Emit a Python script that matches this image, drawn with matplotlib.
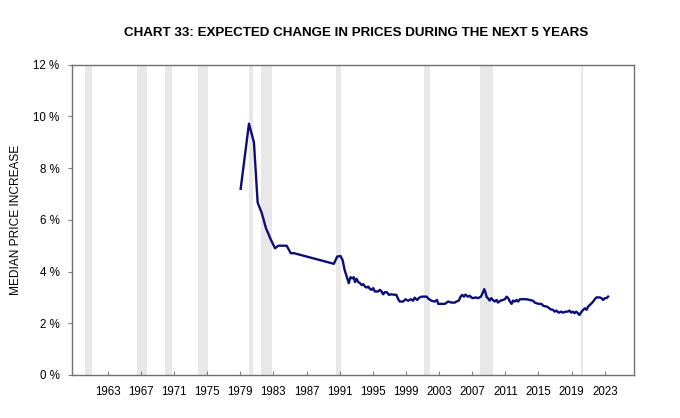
import matplotlib
matplotlib.use('Agg')
import matplotlib.pyplot as plt

plt.rcParams['font.family'] = ['Liberation Sans', 'DejaVu Sans']

# decimal year and median expected price increase (%)
years = [1979.05, 1980.05, 1980.65, 1981.1, 1981.6, 1982.1, 1982.7, 1983.2, 1983.6,
         1984.6, 1985.1, 1985.5, 1990.3, 1990.7, 1991.1, 1991.35, 1991.6, 1991.85,
         1992.1, 1992.3, 1992.55, 1992.7, 1992.85, 1993.05, 1993.25, 1993.45, 1993.65,
         1993.85, 1994.05, 1994.25, 1994.45, 1994.65, 1994.85, 1995.05, 1995.25, 1995.65,
         1995.85, 1996.05, 1996.25, 1996.45, 1996.7, 1996.95, 1997.25, 1997.65, 1997.85,
         1998.05, 1998.25, 1998.65, 1998.95, 1999.25, 1999.6, 1999.85, 2000.05, 2000.35,
         2000.6, 2000.9, 2001.5, 2001.75, 2002.1, 2002.5, 2002.75, 2002.9, 2003.3, 2003.7,
         2004.1, 2004.5, 2004.9, 2005.1, 2005.4, 2005.6, 2005.8, 2006.0, 2006.2, 2006.45,
         2006.7, 2006.9, 2007.1, 2007.4, 2007.7, 2008.05, 2008.25, 2008.45, 2008.6, 2008.75,
         2008.9, 2009.1, 2009.3, 2009.5, 2009.7, 2009.95, 2010.1, 2010.45, 2010.7, 2010.95,
         2011.15, 2011.35, 2011.55, 2011.75, 2011.95, 2012.15, 2012.35, 2012.55, 2012.75,
         2013.15, 2013.55, 2013.95, 2014.35, 2014.55, 2014.8, 2015.05, 2015.35, 2015.6,
         2015.95, 2016.15, 2016.45, 2016.75, 2016.95, 2017.15, 2017.45, 2017.75, 2017.95,
         2018.3, 2018.55, 2018.75, 2018.95, 2019.15, 2019.35, 2019.55, 2019.75, 2019.95,
         2020.2, 2020.4, 2020.6, 2020.8, 2021.0, 2021.2, 2021.4, 2021.6, 2021.8, 2022.0,
         2022.4, 2022.6, 2022.8, 2023.0, 2023.2, 2023.4]
values = [7.2, 9.72, 9.0, 6.67, 6.26, 5.68, 5.23, 4.9, 5.0,
          5.0, 4.71, 4.71, 4.3, 4.58, 4.6, 4.45, 4.06, 3.8,
          3.55, 3.78, 3.74, 3.78, 3.59, 3.72, 3.59, 3.55, 3.48,
          3.51, 3.42, 3.38, 3.42, 3.33, 3.29, 3.36, 3.23, 3.23,
          3.29, 3.23, 3.12, 3.2, 3.2, 3.1, 3.12, 3.1, 3.1,
          2.94, 2.84, 2.84, 2.93, 2.87, 2.93, 2.87, 2.99, 2.9,
          2.99, 3.03, 3.03, 2.94, 2.87, 2.84, 2.9, 2.75, 2.75, 2.75,
          2.84, 2.8, 2.8, 2.84, 2.88, 3.03, 3.1, 3.03, 3.11, 3.03,
          3.06, 3.0, 2.97, 3.0, 2.97, 3.03, 3.16, 3.32, 3.19, 3.01,
          2.97, 2.88, 2.97, 2.9, 2.84, 2.9, 2.8, 2.88, 2.9, 2.93,
          3.03, 2.97, 2.84, 2.75, 2.88, 2.84, 2.9, 2.84, 2.93,
          2.93, 2.93, 2.9, 2.87, 2.8, 2.77, 2.75, 2.75, 2.67,
          2.65, 2.62, 2.54, 2.52, 2.45, 2.49, 2.41, 2.45, 2.41,
          2.45, 2.45, 2.49, 2.41, 2.45, 2.39, 2.45, 2.39, 2.32,
          2.45, 2.52, 2.58, 2.52, 2.65, 2.71, 2.77, 2.84, 2.93, 3.0,
          3.0, 2.97, 2.9, 2.97, 2.97, 3.03]

# recession periods (start, end)
recessions = [(1960.3, 1961.1), (1966.5, 1967.8), (1969.9, 1970.8), (1973.9, 1975.1),
              (1980.0, 1980.5), (1981.5, 1982.8), (1990.5, 1991.2), (2001.2, 2001.85),
              (2007.9, 2009.45), (2020.1, 2020.35)]

xticks = list(range(1963, 2024, 4))
yticks = [0, 2, 4, 6, 8, 10, 12]

fig = plt.figure(figsize=(6.8, 4.18), dpi=100)
ax = fig.add_axes([0.106, 0.103, 0.826, 0.742])

for start, end in recessions:
    ax.axvspan(start, end, color='#e8e8e8', lw=0, zorder=0)

ax.plot(years, values, color='#0d0d78', lw=1.7, zorder=3)

ax.set_xlim(1958.7, 2026.5)
ax.set_ylim(0, 12)
ax.set_xticks(xticks)
ax.set_yticks(yticks)
ax.set_yticklabels([str(v) + ' %' for v in yticks])
ax.tick_params(axis='x', direction='in', length=3, color='#808080', labelsize=8.3, pad=8)
ax.tick_params(axis='y', direction='out', length=3, color='#808080', labelsize=8.3, pad=6)
for s in ax.spines.values():
    s.set_color('#707070')
    s.set_linewidth(1.0)

ax.set_ylabel('MEDIAN PRICE INCREASE', fontsize=8.6, labelpad=8)
fig.text(0.523, 0.92, 'CHART 33: EXPECTED CHANGE IN PRICES DURING THE NEXT 5 YEARS',
         ha='center', va='center', fontsize=9.6, fontweight='bold')

fig.savefig('out.png', dpi=100)
